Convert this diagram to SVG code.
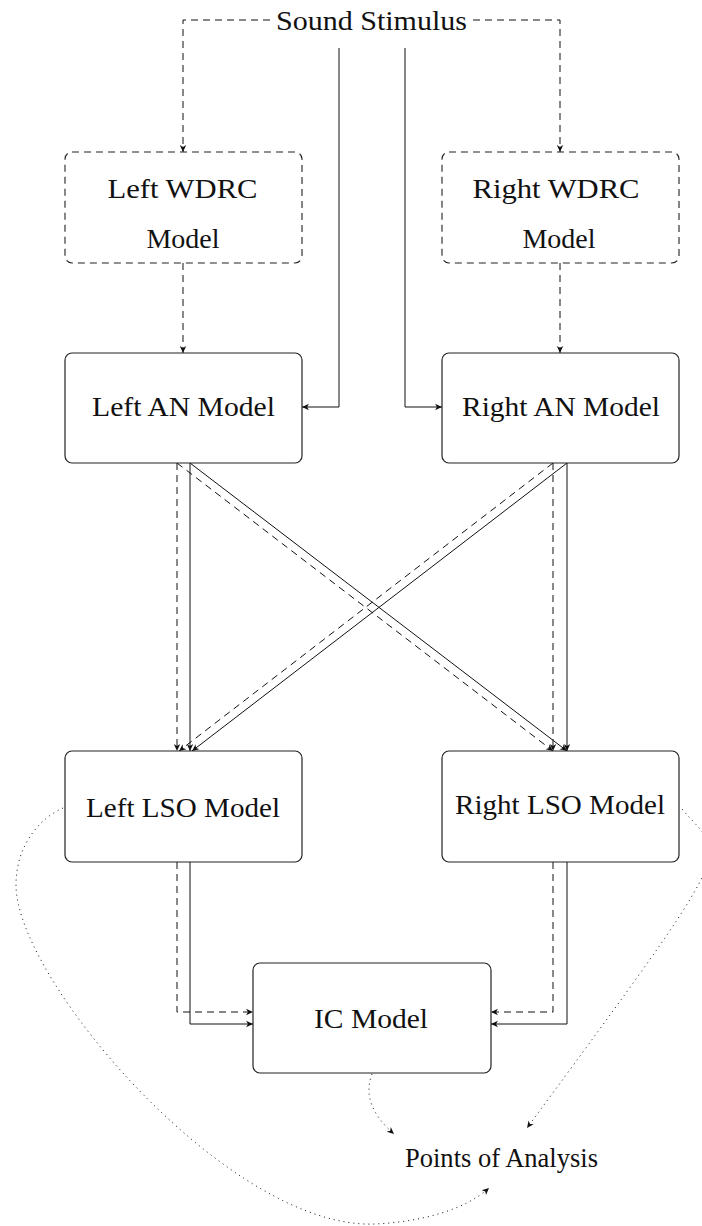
<svg xmlns="http://www.w3.org/2000/svg" width="702" height="1226" viewBox="0 0 702 1226">
<style>
.box{fill:#fff;stroke:#222;stroke-width:1.2}
.dbox{fill:#fff;stroke:#222;stroke-width:1.1;stroke-dasharray:7 5}
.t{font-family:"Liberation Serif","DejaVu Serif",serif;font-size:28px;fill:#111;text-anchor:middle}
.s{fill:none;stroke:#111;stroke-width:1}
.d{fill:none;stroke:#111;stroke-width:1;stroke-dasharray:7 5}
.o{fill:none;stroke:#111;stroke-width:1;stroke-dasharray:1 4}
</style>
<defs>
<marker id="ah" viewBox="-8 -4 9 8" markerWidth="9" markerHeight="8" refX="0" refY="0" orient="auto" markerUnits="userSpaceOnUse">
<path d="M0,0 L-7,-3.2 L-5,0 L-7,3.2 Z" fill="#111"/>
</marker>
</defs>
<rect width="702" height="1226" fill="#fff"/>
<g id="connectors">
<path class="d" d="M270 20 H183 V152" marker-end="url(#ah)"/>
<path class="d" d="M473 20 H560 V152" marker-end="url(#ah)"/>
<path class="d" d="M183 263 V353" marker-end="url(#ah)"/>
<path class="d" d="M560 263 V353" marker-end="url(#ah)"/>
<path class="s" d="M339 48 V407 H302" marker-end="url(#ah)"/>
<path class="s" d="M405 48 V407 H442" marker-end="url(#ah)"/>
<path class="d" d="M177 463 V751" marker-end="url(#ah)"/>
<path class="s" d="M190 463 V751" marker-end="url(#ah)"/>
<path class="d" d="M177 463 L553 751" marker-end="url(#ah)"/>
<path class="s" d="M190 463 L567 751" marker-end="url(#ah)"/>
<path class="d" d="M553 463 V751" marker-end="url(#ah)"/>
<path class="s" d="M567 463 V751" marker-end="url(#ah)"/>
<path class="d" d="M553 463 L179 751" marker-end="url(#ah)"/>
<path class="s" d="M567 463 L192 751" marker-end="url(#ah)"/>
<path class="d" d="M177 862 V1012 H253" marker-end="url(#ah)"/>
<path class="s" d="M190 862 V1024 H253" marker-end="url(#ah)"/>
<path class="d" d="M553 862 V1012 H491" marker-end="url(#ah)"/>
<path class="s" d="M567 862 V1024 H491" marker-end="url(#ah)"/>
<path class="o" d="M372 1074 C364 1095 372 1115 394 1134" marker-end="url(#ah)"/>
<path class="o" d="M682 809 C725 860 745 832 527 1128" marker-end="url(#ah)"/>
<path class="o" d="M63 808 C40 818 16 845 16 885 C16 980 230 1230 375 1224 C420 1222 465 1210 489 1188" marker-end="url(#ah)"/>
</g>
<g id="sound">
<text class="t" x="371.5" y="30" textLength="191" lengthAdjust="spacingAndGlyphs">Sound Stimulus</text>
</g>
<g id="left-wdrc">
<rect class="dbox" x="65" y="152" width="237" height="111" rx="7"/>
<text class="t" x="182.5" y="198" textLength="150" lengthAdjust="spacingAndGlyphs">Left WDRC</text>
<text class="t" x="183" y="248">Model</text>
</g>
<g id="right-wdrc">
<rect class="dbox" x="442" y="152" width="237" height="111" rx="7"/>
<text class="t" x="556" y="198" textLength="167" lengthAdjust="spacingAndGlyphs">Right WDRC</text>
<text class="t" x="559" y="248">Model</text>
</g>
<g id="left-an">
<rect class="box" x="65" y="353" width="237" height="110" rx="7"/>
<text class="t" x="183.5" y="416" textLength="183" lengthAdjust="spacingAndGlyphs">Left AN Model</text>
</g>
<g id="right-an">
<rect class="box" x="442" y="353" width="237" height="110" rx="7"/>
<text class="t" x="561" y="416" textLength="198" lengthAdjust="spacingAndGlyphs">Right AN Model</text>
</g>
<g id="left-lso">
<rect class="box" x="65" y="751" width="237" height="111" rx="7"/>
<text class="t" x="183" y="817" textLength="194" lengthAdjust="spacingAndGlyphs">Left LSO Model</text>
</g>
<g id="right-lso">
<rect class="box" x="442" y="751" width="237" height="111" rx="7"/>
<text class="t" x="560" y="814" textLength="210" lengthAdjust="spacingAndGlyphs">Right LSO Model</text>
</g>
<g id="ic">
<rect class="box" x="253" y="963" width="238" height="110" rx="7"/>
<text class="t" x="371" y="1028" textLength="114" lengthAdjust="spacingAndGlyphs">IC Model</text>
</g>
<g id="points">
<text class="t" x="501.5" y="1167" textLength="193" lengthAdjust="spacingAndGlyphs">Points of Analysis</text>
</g>
</svg>
